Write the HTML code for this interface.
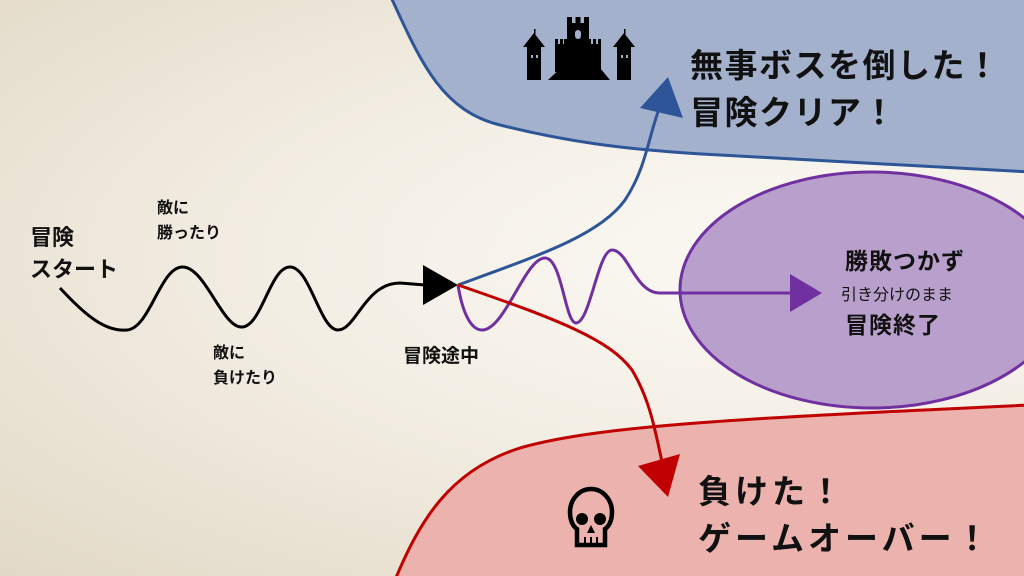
<!DOCTYPE html>
<html><head><meta charset="utf-8"><style>
html,body{margin:0;padding:0;width:1024px;height:576px;overflow:hidden}
body{background:radial-gradient(ellipse at 75% 45%,#fbf9f4 0%,#f3eee4 45%,#e2d9c6 100%);font-family:"Liberation Sans","Noto Sans CJK JP",sans-serif;position:relative}
.t{position:absolute;color:#111;font-weight:bold;white-space:nowrap}
</style></head><body>
<svg width="1024" height="576" style="position:absolute;left:0;top:0">
<path d="M390,-5 C420,60 440,110 500,125 C560,140 620,150 720,155 C850,162 950,168 1030,172 L1030,-5 Z" fill="#a3b1cd" stroke="#2e5597" stroke-width="3"/>
<ellipse cx="872" cy="290" rx="192" ry="118" fill="#b9a0cc" stroke="#7030a0" stroke-width="3"/>
<path d="M395,580 C420,520 450,470 520,448 C600,425 750,418 1030,405 L1030,580 Z" fill="#ecb3ae" stroke="#c00000" stroke-width="3"/>
<path d="M60,288 C85,315 105,332 127,330 C150,328 160,268 182,267 C205,266 222,328 242,327 C262,326 270,267 290,267 C310,267 320,330 338,330 C356,330 365,283 400,283 L425,285" fill="none" stroke="#000" stroke-width="3"/>
<polygon points="423,265 423,305 458,285" fill="#000"/>
<path d="M458,285 C462,310 470,330 482,330 C505,330 525,258 545,258 C562,258 565,323 576,323 C590,323 598,250 612,250 C628,250 635,293 660,293 L795,293" fill="none" stroke="#7030a0" stroke-width="3"/>
<polygon points="790,274 790,312 822,293" fill="#7030a0"/>
<path d="M458,285 C540,255 600,235 625,200 C645,170 648,140 658,112" fill="none" stroke="#2e5597" stroke-width="3"/>
<polygon points="668,77 683,118 640,108" fill="#2e5597"/>
<path d="M458,285 C560,320 610,340 632,370 C650,400 655,430 662,462" fill="none" stroke="#c00000" stroke-width="3"/>
<polygon points="638,466 680,454 668,497" fill="#c00000"/>
<!-- castle -->
<g fill="#000">
<rect x="527" y="46" width="14" height="34"/><polygon points="523,47 534,33 545,47"/><rect x="534" y="29" width="1.5" height="6"/>
<rect x="617" y="46" width="14" height="34"/><polygon points="613,47 624,33 635,47"/><rect x="624" y="29" width="1.5" height="6"/>
<rect x="555" y="44" width="12" height="28"/><rect x="555" y="39" width="3" height="6"/><rect x="560" y="39" width="3" height="6"/><rect x="564" y="39" width="3" height="6"/>
<rect x="588" y="44" width="13" height="28"/><rect x="588" y="39" width="3" height="6"/><rect x="593" y="39" width="3" height="6"/><rect x="598" y="39" width="3" height="6"/>
<rect x="567" y="23" width="22" height="50"/><rect x="567" y="17" width="5" height="7"/><rect x="575.5" y="17" width="5" height="7"/><rect x="584" y="17" width="5" height="7"/>
<polygon points="548,80 565,64 580,70 595,62 610,80"/>
</g>
<g fill="#a3b1cd"><rect x="531" y="55" width="2" height="3"/><rect x="536" y="55" width="2" height="3"/><rect x="621" y="55" width="2" height="3"/><rect x="626" y="55" width="2" height="3"/><rect x="575" y="30" width="6" height="9" rx="3"/></g>
<!-- skull -->
<g>
<path d="M570,512 a21,23 0 1 1 42,0 c0,10 -4,15 -7,17 v16 h-28 v-16 c-3,-2 -7,-7 -7,-17z" fill="none" stroke="#000" stroke-width="4.5"/>
<circle cx="582" cy="519" r="6" fill="#000"/><circle cx="600" cy="519" r="6" fill="#000"/>
<polygon points="591,525 587,533 595,533" fill="#000"/>
<line x1="585" y1="537" x2="585" y2="545" stroke="#000" stroke-width="2"/><line x1="591" y1="537" x2="591" y2="545" stroke="#000" stroke-width="2"/><line x1="597" y1="537" x2="597" y2="545" stroke="#000" stroke-width="2"/>
</g>
</svg>
<div class="t" style="left:690px;top:42px;font-size:33px;line-height:47px;letter-spacing:1.5px">無事ボスを倒した！<br>冒険クリア！</div>
<div class="t" style="left:698px;top:468px;font-size:33px;line-height:47px;letter-spacing:4px">負けた！<br>ゲームオーバー！</div>
<div class="t" style="left:845px;top:246px;font-size:23px;line-height:30px;letter-spacing:1px">勝敗つかず</div>
<div class="t" style="left:841px;top:281px;font-size:16px;font-weight:normal">引き分けのまま</div>
<div class="t" style="left:845px;top:310px;font-size:23px;line-height:30px;letter-spacing:1px">冒険終了</div>
<div class="t" style="left:30px;top:222px;font-size:22px;line-height:32px">冒険<br>スタート</div>
<div class="t" style="left:157px;top:196px;font-size:16px;line-height:25px">敵に<br>勝ったり</div>
<div class="t" style="left:213px;top:341px;font-size:16px;line-height:25px">敵に<br>負けたり</div>
<div class="t" style="left:403px;top:341px;font-size:19px">冒険途中</div>
</body></html>
